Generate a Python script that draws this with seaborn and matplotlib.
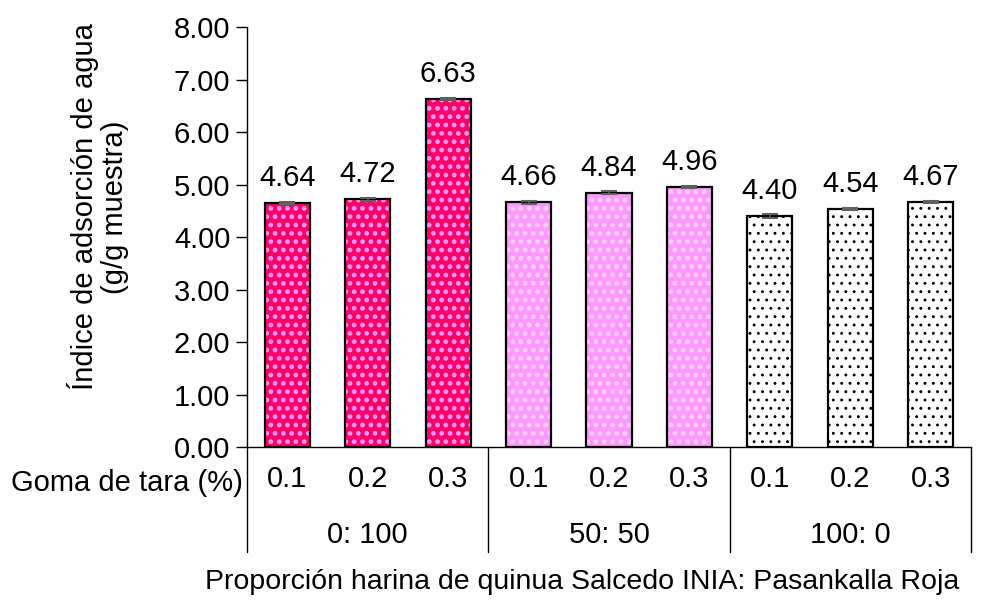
import seaborn as sns
import pandas as pd
import numpy as np
import matplotlib.pyplot as plt
import matplotlib.transforms as mtransforms
from matplotlib.patches import Rectangle
from matplotlib.container import BarContainer

# datos
grupos = ['0: 100', '50: 50', '100: 0']
goma = ['0.1', '0.2', '0.3']
valores = [4.64, 4.72, 6.63, 4.66, 4.84, 4.96, 4.40, 4.54, 4.67]
errores = [0.02, 0.03, 0.02, 0.03, 0.03, 0.02, 0.03, 0.02, 0.02]

fondo = ['#FF0066', '#FF99FF', '#FFFFFF']
puntos = ['#FF99FF', '#FFD0FF', '#000000']

sns.set_theme(style='white')
plt.rcParams['font.family'] = ['Liberation Sans', 'DejaVu Sans']
plt.rcParams['hatch.linewidth'] = 2.0

fs = 21
df = pd.DataFrame({
    'trat': [g + '|' + m for g in grupos for m in goma],
    'grupo': [g for g in grupos for m in goma],
    'valor': valores,
})

fig = plt.figure(figsize=(9.81, 6.10), dpi=100)
ax = fig.add_axes([0.2518, 0.2672, 0.738, 0.6885])

sns.barplot(data=df, x='trat', y='valor', hue='grupo', palette=fondo,
            saturation=1, width=0.56, errorbar=None, legend=False, ax=ax,
            dodge=False)

for c in ax.containers:
    if isinstance(c, BarContainer):
        ax.bar_label(c, fmt='%.2f', padding=8, fontsize=fs, color='black')

barras = sorted(ax.patches, key=lambda p: p.get_x())
for i, p in enumerate(barras):
    gi = i // len(goma)
    p.set_edgecolor(puntos[gi])
    p.set_linewidth(0)
    p.set_hatch('..')
    if hasattr(p, 'set_hatch_linewidth'):
        p.set_hatch_linewidth(2.2 if gi < 2 else 0.9)
    ax.add_patch(Rectangle(p.get_xy(), p.get_width(), p.get_height(),
                           fill=False, ec='black', lw=1.6, zorder=3))

cx = [p.get_x() + p.get_width() / 2 for p in barras]
ax.errorbar(cx, valores, yerr=errores, fmt='none', ecolor='#606060',
            elinewidth=1.2, capsize=6, capthick=1.5, zorder=4)

ax.set_ylim(0, 8)
ax.set_xlim(-0.5, len(valores) - 0.5)
ax.set_yticks(np.arange(0, 9, 1))
ax.set_yticklabels([f'{v:.2f}' for v in np.arange(0, 9, 1)])
ax.set_xticks(range(len(valores)))
ax.set_xticklabels(goma * len(grupos))
ax.tick_params(axis='y', direction='out', length=8, width=1, color='black',
               labelsize=fs, labelcolor='black', pad=4, left=True)
ax.tick_params(axis='x', length=0, labelsize=fs, labelcolor='black', pad=13)
for s in ['top', 'right']:
    ax.spines[s].set_visible(False)
for s in ['left', 'bottom']:
    ax.spines[s].set_color('black')
    ax.spines[s].set_linewidth(1)
ax.set_xlabel('')
ax.set_ylabel('')

trans = mtransforms.blended_transform_factory(ax.transData, ax.transAxes)
n = len(goma)
for k in range(len(grupos) + 1):
    xv = k * n - 0.5
    ax.plot([xv, xv], [0, -0.25], transform=trans, color='black', lw=1,
            clip_on=False)
for k, g in enumerate(grupos):
    ax.text(k * n + (n - 1) / 2, -0.21, g, transform=trans, ha='center',
            va='center', fontsize=fs, color='black')

fig.text(243 / 981, (610 - 483) / 610, 'Goma de tara (%)', ha='right',
         va='center', fontsize=fs, color='black')
fig.text(582 / 981, (610 - 582) / 610,
         'Proporción harina de quinua Salcedo INIA: Pasankalla Roja',
         ha='center', va='center', fontsize=20.5, color='black')
fig.text(98 / 981, (610 - 207) / 610,
         'Índice de adsorción de agua\n(g/g muestra)', rotation=90,
         ha='center', va='center', multialignment='center', fontsize=fs,
         color='black', linespacing=1.1)

fig.savefig('out.png', dpi=100)
